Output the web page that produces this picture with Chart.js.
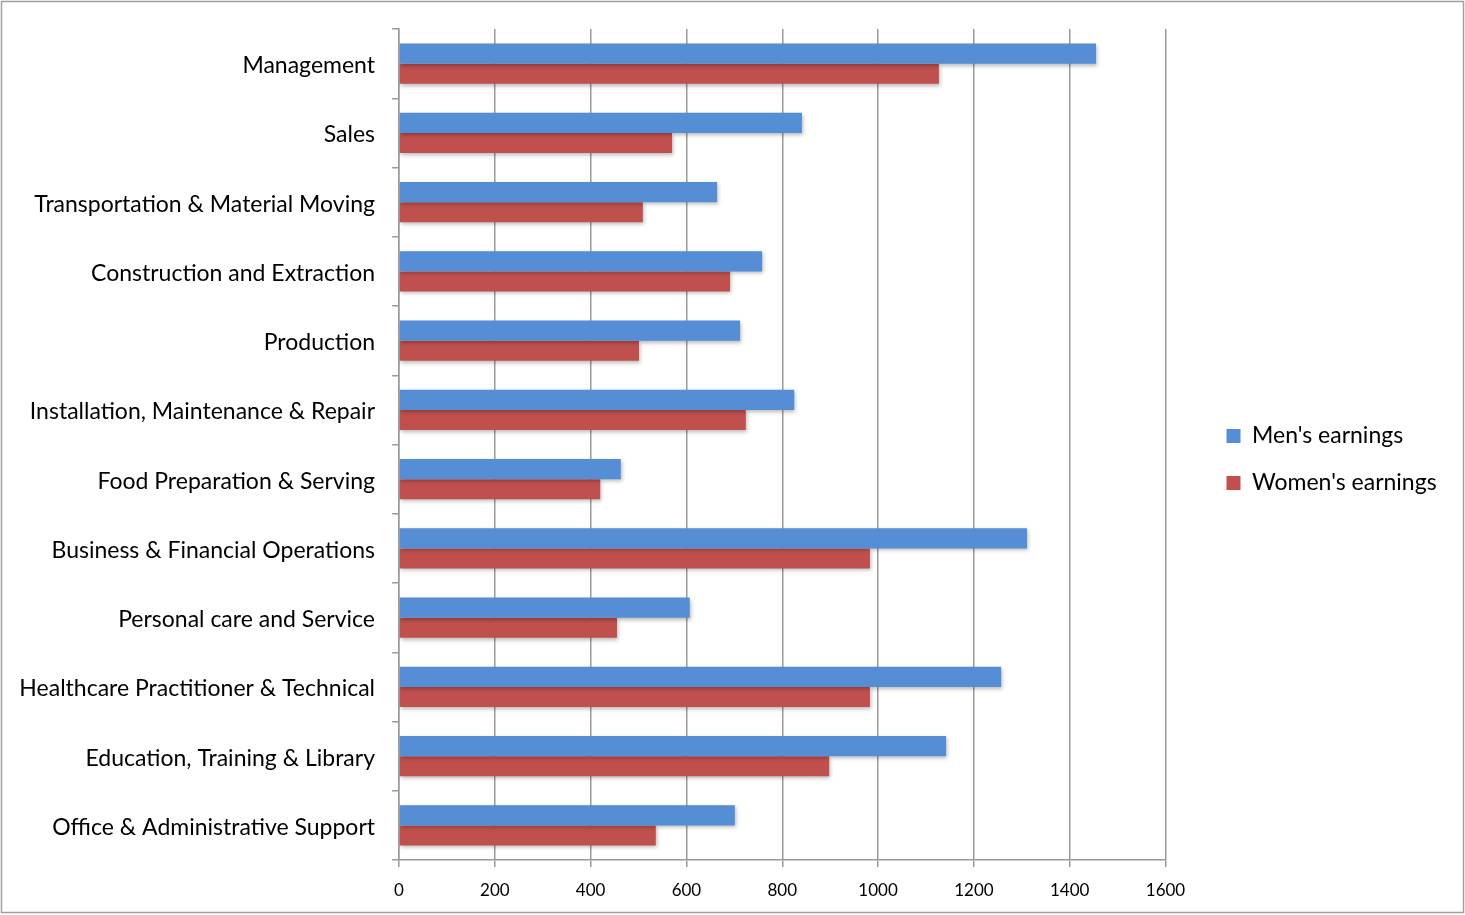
<!DOCTYPE html>
<html>
<head>
<meta charset="utf-8">
<script src="https://cdn.jsdelivr.net/npm/chart.js@4/dist/chart.umd.min.js"></script>
<style>
  html, body { margin: 0; padding: 0; background: #fff; }
  #wrap { width: 1465px; height: 915px; position: relative; }
</style>
</head>
<body>
<div id="wrap"><canvas id="c" width="1465" height="915"></canvas></div>
<script>
const categories = [
  "Management",
  "Sales",
  "Transportation & Material Moving",
  "Construction and Extraction",
  "Production",
  "Installation, Maintenance & Repair",
  "Food Preparation & Serving",
  "Business & Financial Operations",
  "Personal care and Service",
  "Healthcare Practitioner & Technical",
  "Education, Training & Library",
  "Office & Administrative Support"
];
const mensEarnings   = [1455, 841, 664, 758, 712, 825, 463, 1311, 607, 1257, 1142, 701];
const womensEarnings = [1127, 570, 509, 691, 501, 724, 420,  983, 455,  983,  898, 536];
const xTicks = [0, 200, 400, 600, 800, 1000, 1200, 1400, 1600];

const FONT = "Lato, 'Open Sans', sans-serif";
const GRID = '#9a9a9a';

const framePlugin = {
  id: 'frame',
  afterDraw(chart) {
    const ctx = chart.ctx;
    ctx.save();
    ctx.strokeStyle = '#a0a0a0';
    ctx.lineWidth = 1.5;
    ctx.strokeRect(1.5, 1.5, chart.width - 3, chart.height - 4);
    ctx.restore();
  }
};

const shadowPlugin = {
  id: 'barShadow',
  beforeDatasetsDraw(chart) {
    const ctx = chart.ctx;
    ctx.save();
    ctx.shadowColor = 'rgba(0,0,0,0.28)';
    ctx.shadowBlur = 4;
    ctx.shadowOffsetX = 1;
    ctx.shadowOffsetY = 2;
  },
  afterDatasetsDraw(chart) {
    chart.ctx.restore();
  }
};

new Chart(document.getElementById('c'), {
  type: 'bar',
  data: {
    labels: categories,
    datasets: [
      { label: "Men's earnings", data: mensEarnings, backgroundColor: '#558ed5', borderWidth: 0 },
      { label: "Women's earnings", data: womensEarnings, backgroundColor: '#c0504d', borderWidth: 0 }
    ]
  },
  options: {
    indexAxis: 'y',
    responsive: false,
    animation: false,
    devicePixelRatio: 1,
    categoryPercentage: 0.58,
    barPercentage: 1.0,
    layout: { padding: { top: 29, left: 0, right: 22, bottom: 0 } },
    plugins: {
      legend: {
        position: 'right',
        align: 'start',
        title: { display: true, text: '', font: { size: 12, lineHeight: 1.2 }, padding: { top: 357, bottom: 0 } },
        labels: {
          font: { family: FONT, size: 23 },
          color: '#000',
          boxWidth: 14,
          boxHeight: 14,
          padding: 24
        }
      },
      tooltip: { enabled: false }
    },
    scales: {
      x: {
        min: 0, max: 1600,
        afterBuildTicks(s) { s.ticks = xTicks.map(v => ({ value: v })); },
        afterFit(s) { s.height = 55; },
        grid: { color: GRID, lineWidth: 1.5, tickLength: 7, drawTicks: true },
        border: { color: GRID, width: 1.5 },
        ticks: {
          font: { family: FONT, size: 17 }, color: '#000', padding: 13, maxRotation: 0,
          callback: v => String(v)
        }
      },
      y: {
        afterFit(s) { s.width = 399; s.paddingTop = 0; s.paddingBottom = 0; },
        grid: { drawOnChartArea: false, color: GRID, lineWidth: 1.5, tickLength: 7, offset: true },
        border: { color: GRID, width: 1.5 },
        ticks: { font: { family: FONT, size: 23 }, color: '#000', padding: 17, labelOffset: 2 }
      },
      spacer: {
        type: 'linear',
        position: 'right',
        display: true,
        min: 0, max: 1,
        afterFit(s) { s.width = 37; s.paddingTop = 0; s.paddingBottom = 0; },
        grid: { display: false },
        border: { display: false },
        ticks: { display: false }
      }
    }
  },
  plugins: [shadowPlugin, framePlugin]
});
</script>
</body>
</html>
